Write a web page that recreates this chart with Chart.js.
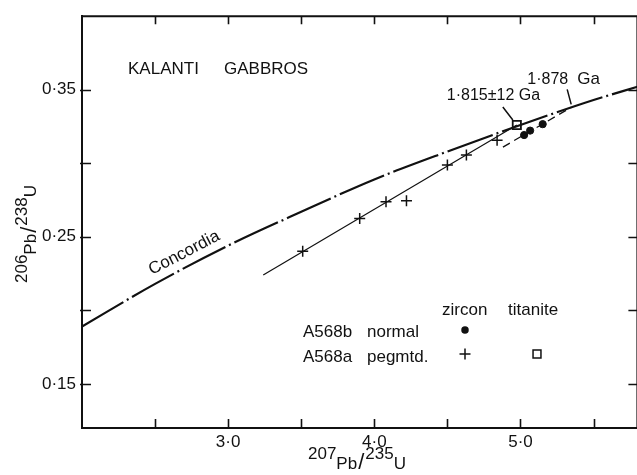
<!DOCTYPE html>
<html><head><meta charset="utf-8">
<script src="https://cdn.jsdelivr.net/npm/chart.js@4/dist/chart.umd.min.js"></script>
<style>
html,body{margin:0;padding:0;background:#fff;overflow:hidden;width:637px;height:475px}
#wrap{position:absolute;left:0;top:0;width:645px;height:475px}
</style>
</head><body><div id="wrap"><canvas id="c" width="645" height="475"></canvas></div>
<script>
// ---- data ----
const concordiaX = [2.0, 2.5, 3.0, 3.5, 4.0, 4.5, 5.0, 5.5, 5.8];
const concordiaY = [0.189, 0.218, 0.244, 0.267, 0.289, 0.308, 0.326, 0.343, 0.352];

const zirconA_X = [3.51, 3.90, 4.08, 4.22, 4.50, 4.63, 4.84];          // A568a pegmtd. (+)
const zirconA_Y = [0.2402, 0.2625, 0.2739, 0.2746, 0.2988, 0.3056, 0.3157];

const zirconB_X = [5.025, 5.066, 5.152];                                 // A568b normal (●)
const zirconB_Y = [0.3192, 0.3222, 0.3266];

const titaniteX = [4.975];                                               // titanite (□)
const titaniteY = [0.3260];

const discordiaA_X = [3.24, 4.975];
const discordiaA_Y = [0.224, 0.326];
const discordiaB_X = [4.88, 5.347];
const discordiaB_Y = [0.311, 0.338];

const upperInterceptX = [5.347];   // 1.878 Ga
const upperInterceptY = [0.338];

const xMajorTicks = [3.0, 4.0, 5.0];
const xTickLabels = ['3·0', '4·0', '5·0'];
const xMinorTicks = [2.5, 3.5, 4.5, 5.5];
const yMajorTicks = [0.15, 0.25, 0.35];
const yTickLabels = ['0·15', '0·25', '0·35'];
const yMinorTicks = [0.20, 0.30];

const pts = (xs, ys) => xs.map((x, i) => ({x: x, y: ys[i]}));
const FONT = "'Liberation Sans', Arial, sans-serif";
const INK = '#111';

const decor = {
  id: 'decor',
  afterDraw(chart) {
    const ctx = chart.ctx, a = chart.chartArea;
    const sx = chart.scales.x, sy = chart.scales.y;
    ctx.save();
    ctx.strokeStyle = INK; ctx.fillStyle = INK;
    // top and right frame
    ctx.lineWidth = 2;
    ctx.beginPath();
    ctx.moveTo(a.left - 1, a.top); ctx.lineTo(a.right, a.top); ctx.lineTo(a.right, a.bottom);
    ctx.stroke();
    // tick marks
    ctx.lineWidth = 1.6;
    ctx.beginPath();
    xMajorTicks.concat(xMinorTicks).forEach(v => {
      const px = Math.round(sx.getPixelForValue(v)) + 0.5;
      ctx.moveTo(px, a.bottom); ctx.lineTo(px, a.bottom - 9);
      ctx.moveTo(px, a.top); ctx.lineTo(px, a.top + 8);
    });
    yMajorTicks.concat(yMinorTicks).forEach(v => {
      const py = Math.round(sy.getPixelForValue(v)) + 0.5;
      ctx.moveTo(a.left - 2, py); ctx.lineTo(a.left + 9, py);
      ctx.moveTo(a.right, py); ctx.lineTo(a.right - 9, py);
    });
    ctx.stroke();

    // title
    ctx.font = '17px ' + FONT;
    ctx.textBaseline = 'alphabetic';
    ctx.textAlign = 'left';
    ctx.fillText('KALANTI', 128, 74);
    ctx.fillText('GABBROS', 224, 74);

    // Concordia label
    ctx.save();
    ctx.translate(sx.getPixelForValue(2.70), sy.getPixelForValue(0.239));
    ctx.rotate(-27.5 * Math.PI / 180);
    ctx.textAlign = 'center'; ctx.textBaseline = 'middle';
    ctx.font = '17px ' + FONT;
    ctx.fillText('Concordia', 0, 0);
    ctx.restore();

    // age labels with leader lines
    const sq = {x: sx.getPixelForValue(titaniteX[0]), y: sy.getPixelForValue(titaniteY[0])};
    const ui = {x: sx.getPixelForValue(upperInterceptX[0]), y: sy.getPixelForValue(upperInterceptY[0])};
    ctx.lineWidth = 1.5;
    ctx.beginPath();
    ctx.moveTo(sq.x - 14, sq.y - 18); ctx.lineTo(sq.x - 4, sq.y - 5);
    ctx.moveTo(ui.x - 4, ui.y - 18); ctx.lineTo(ui.x, ui.y - 3);
    ctx.stroke();
    ctx.font = '16px ' + FONT;
    ctx.textAlign = 'left'; ctx.textBaseline = 'alphabetic';
    ctx.fillText('1·815±12 Ga', sq.x - 70, sq.y - 25);
    ctx.textAlign = 'right';
    ctx.fillText('1·878', ui.x - 3, ui.y - 23);
    ctx.textAlign = 'left';
    ctx.font = '17px ' + FONT;
    ctx.fillText('Ga', ui.x + 6, ui.y - 23);

    // legend
    ctx.font = '17px ' + FONT;
    ctx.fillText('zircon', 442, 315);
    ctx.fillText('titanite', 508, 315);
    ctx.fillText('A568b', 303, 337);
    ctx.fillText('normal', 367, 337);
    ctx.fillText('A568a', 303, 362);
    ctx.fillText('pegmtd.', 367, 362);
    Chart.helpers.drawPoint(ctx, {pointStyle: 'circle', radius: 3, borderWidth: 1}, 465, 330);
    ctx.fill();
    ctx.fillStyle = '#fff';
    ctx.lineWidth = 1.5;
    Chart.helpers.drawPoint(ctx, {pointStyle: 'cross', radius: 5.5, borderWidth: 1.5}, 465, 354);
    Chart.helpers.drawPoint(ctx, {pointStyle: 'rect', radius: 5.6, borderWidth: 1.8}, 537, 354);
    ctx.fillStyle = INK;

    // axis titles
    let x = 0;
    const piece = (t, base, size) => {
      ctx.font = (size || 17) + 'px ' + FONT;
      ctx.fillText(t, x, base); x += ctx.measureText(t).width;
    };
    x = 308;
    piece('207', 459); piece('Pb', 469); x += 1; piece('/', 469, 22); x += 1; piece('235', 459); piece('U', 469);

    ctx.save();
    ctx.translate(27, 283);
    ctx.rotate(-Math.PI / 2);
    x = 0;
    piece('206', 0); piece('Pb', 9); x += 1; piece('/', 9, 22); x += 1; piece('238', 0); piece('U', 9);
    ctx.restore();

    ctx.restore();
  }
};

new Chart(document.getElementById('c'), {
  type: 'scatter',
  data: {
    datasets: [
      {data: pts(concordiaX, concordiaY), showLine: true, borderColor: INK, borderWidth: 2.2,
       borderDash: [48, 4, 2, 4], pointRadius: 0, cubicInterpolationMode: 'monotone', fill: false},
      {data: pts(discordiaA_X, discordiaA_Y), showLine: true, borderColor: INK, borderWidth: 1.2, pointRadius: 0},
      {data: pts(discordiaB_X, discordiaB_Y), showLine: true, borderColor: INK, borderWidth: 1.3,
       borderDash: [8, 5], pointRadius: 0},
      {data: pts(zirconA_X, zirconA_Y), pointStyle: 'cross', pointRadius: 5.5, borderColor: INK, borderWidth: 1.5},
      {data: pts(zirconB_X, zirconB_Y), pointStyle: 'circle', pointRadius: 3.6, backgroundColor: INK, borderColor: INK, borderWidth: 1},
      {data: pts(titaniteX, titaniteY), pointStyle: 'rect', pointRadius: 5.8, backgroundColor: '#fff', borderColor: INK, borderWidth: 1.8}
    ]
  },
  options: {
    responsive: false, animation: false, events: [],
    layout: {padding: {left: 0, right: 4, top: 12, bottom: 0}},
    plugins: {legend: {display: false}, tooltip: {enabled: false}},
    scales: {
      x: {
        type: 'linear', min: 2.0, max: 5.8,
        grid: {display: false, drawTicks: false},
        border: {display: true, color: INK, width: 2},
        ticks: {color: INK, font: {family: FONT, size: 17}, padding: 4, maxRotation: 0,
                callback: v => { const i = xMajorTicks.findIndex(t => Math.abs(t - v) < 1e-6); return i >= 0 ? xTickLabels[i] : ''; }},
        afterBuildTicks: s => { s.ticks = xMajorTicks.map(v => ({value: v})); },
        afterFit: s => { s.height = 47; }
      },
      y: {
        type: 'linear', min: 0.12, max: 0.40,
        grid: {display: false, drawTicks: false},
        border: {display: true, color: INK, width: 2},
        ticks: {color: INK, font: {family: FONT, size: 17}, padding: 6,
                callback: v => { const i = yMajorTicks.findIndex(t => Math.abs(t - v) < 1e-6); return i >= 0 ? yTickLabels[i] : ''; }},
        afterBuildTicks: s => { s.ticks = yMajorTicks.map(v => ({value: v})); },
        afterFit: s => { s.width = 82; }
      }
    }
  },
  plugins: [decor]
});
</script>
</body></html>
